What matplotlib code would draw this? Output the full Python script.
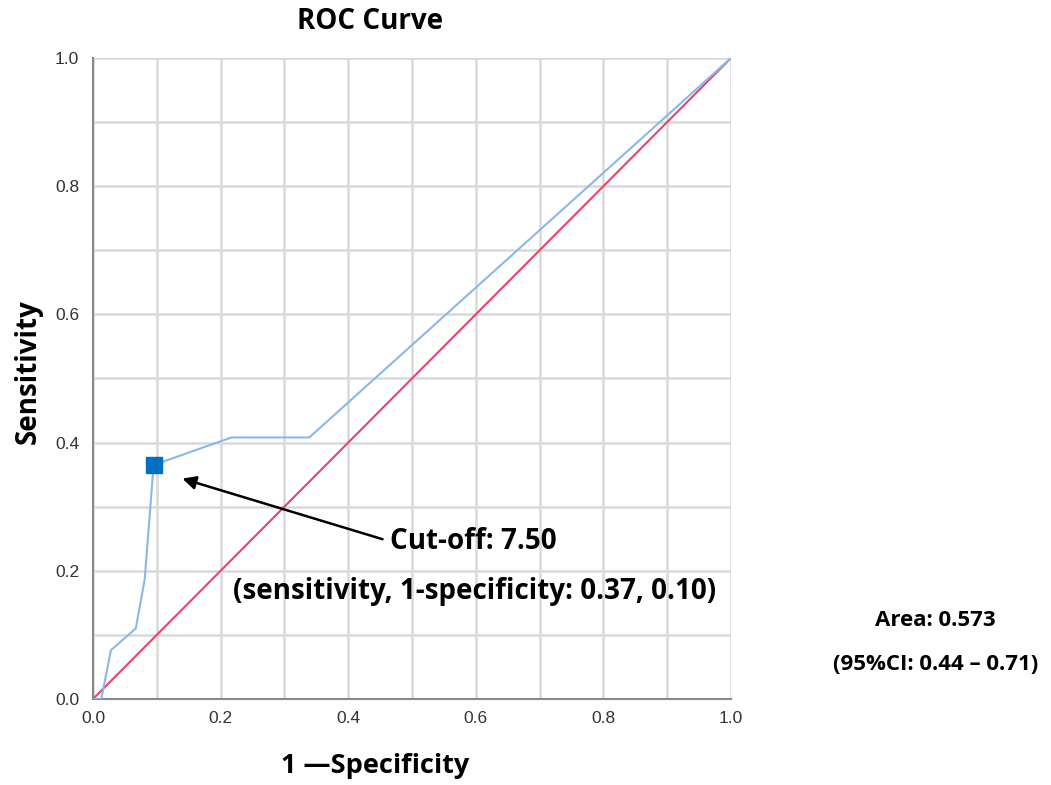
import matplotlib.pyplot as plt
import numpy as np

# ROC curve points
fpr = [0.0, 0.013, 0.028, 0.067, 0.081, 0.095, 0.217, 0.339, 1.0]
tpr = [0.0, 0.0, 0.076, 0.110, 0.186, 0.365, 0.408, 0.408, 1.0]
ref_line = [0.0, 1.0]

cut_fpr, cut_tpr = 0.095, 0.365
cut_label = "Cut-off: 7.50"
cut_detail = "(sensitivity, 1-specificity: 0.37, 0.10)"
area_label = "Area: 0.573"
ci_label = "(95%CI: 0.44 \u2013 0.71)"

ticks = np.arange(0, 1.01, 0.2)
minor = np.arange(0, 1.01, 0.1)

fig = plt.figure(figsize=(10.51, 7.85), dpi=100)
ax = fig.add_axes([0.0885, 0.1096, 0.6070, 0.8165])

ax.set_xlim(0, 1)
ax.set_ylim(0, 1)
ax.set_xticks(ticks)
ax.set_yticks(ticks)
ax.set_xticks(minor, minor=True)
ax.set_yticks(minor, minor=True)
ax.set_xticklabels([f"{t:.1f}" for t in ticks], fontsize=12.5, color='#333333', family='Liberation Sans')
ax.set_yticklabels([f"{t:.1f}" for t in ticks], fontsize=12.5, color='#333333', family='Liberation Sans')
ax.tick_params(axis='x', which='both', length=0, pad=9)
ax.tick_params(axis='y', which='both', length=0, pad=10)
ax.grid(True, which='both', color='#d9d9d9', linewidth=1.8)
ax.set_axisbelow(True)
for side in ['top', 'right']:
    ax.spines[side].set_visible(False)
for side in ['left', 'bottom']:
    ax.spines[side].set_color('#888888')
    ax.spines[side].set_linewidth(1.5)

ax.plot(ref_line, ref_line, color='#e8436a', linewidth=1.5, zorder=3)
ax.plot(fpr, tpr, color='#8ab8e8', linewidth=1.5, zorder=4)
ax.plot([cut_fpr], [cut_tpr], marker='s', markersize=11, color='#0070c0', zorder=5, linestyle='none')

bold = dict(family=['Open Sans', 'Noto Sans CJK SC', 'DejaVu Sans'], fontweight='bold')

ax.annotate("", xy=(0.136, 0.345), xytext=(0.458, 0.248),
            arrowprops=dict(arrowstyle='-|>', color='black', lw=1.8, mutation_scale=20), zorder=6)
ax.text(0.466, 0.246, cut_label, fontsize=20, va='center', ha='left', **bold)
ax.text(0.219, 0.167, cut_detail, fontsize=20, va='center', ha='left', **bold)

fig.text(0.352, 0.972, "ROC Curve", fontsize=20, ha='center', va='center', **bold)
fig.text(0.027, 0.527, "Sensitivity", fontsize=20, ha='center', va='center', rotation=90, **bold)
fig.text(0.357, 0.024, "1 \u2014Specificity", fontsize=19.5, ha='center', va='center', **bold)
fig.text(0.890, 0.209, area_label, fontsize=16, ha='center', va='center', **bold)
fig.text(0.890, 0.153, ci_label, fontsize=16, ha='center', va='center', **bold)

plt.savefig('out.png', dpi=100)
plt.close()
